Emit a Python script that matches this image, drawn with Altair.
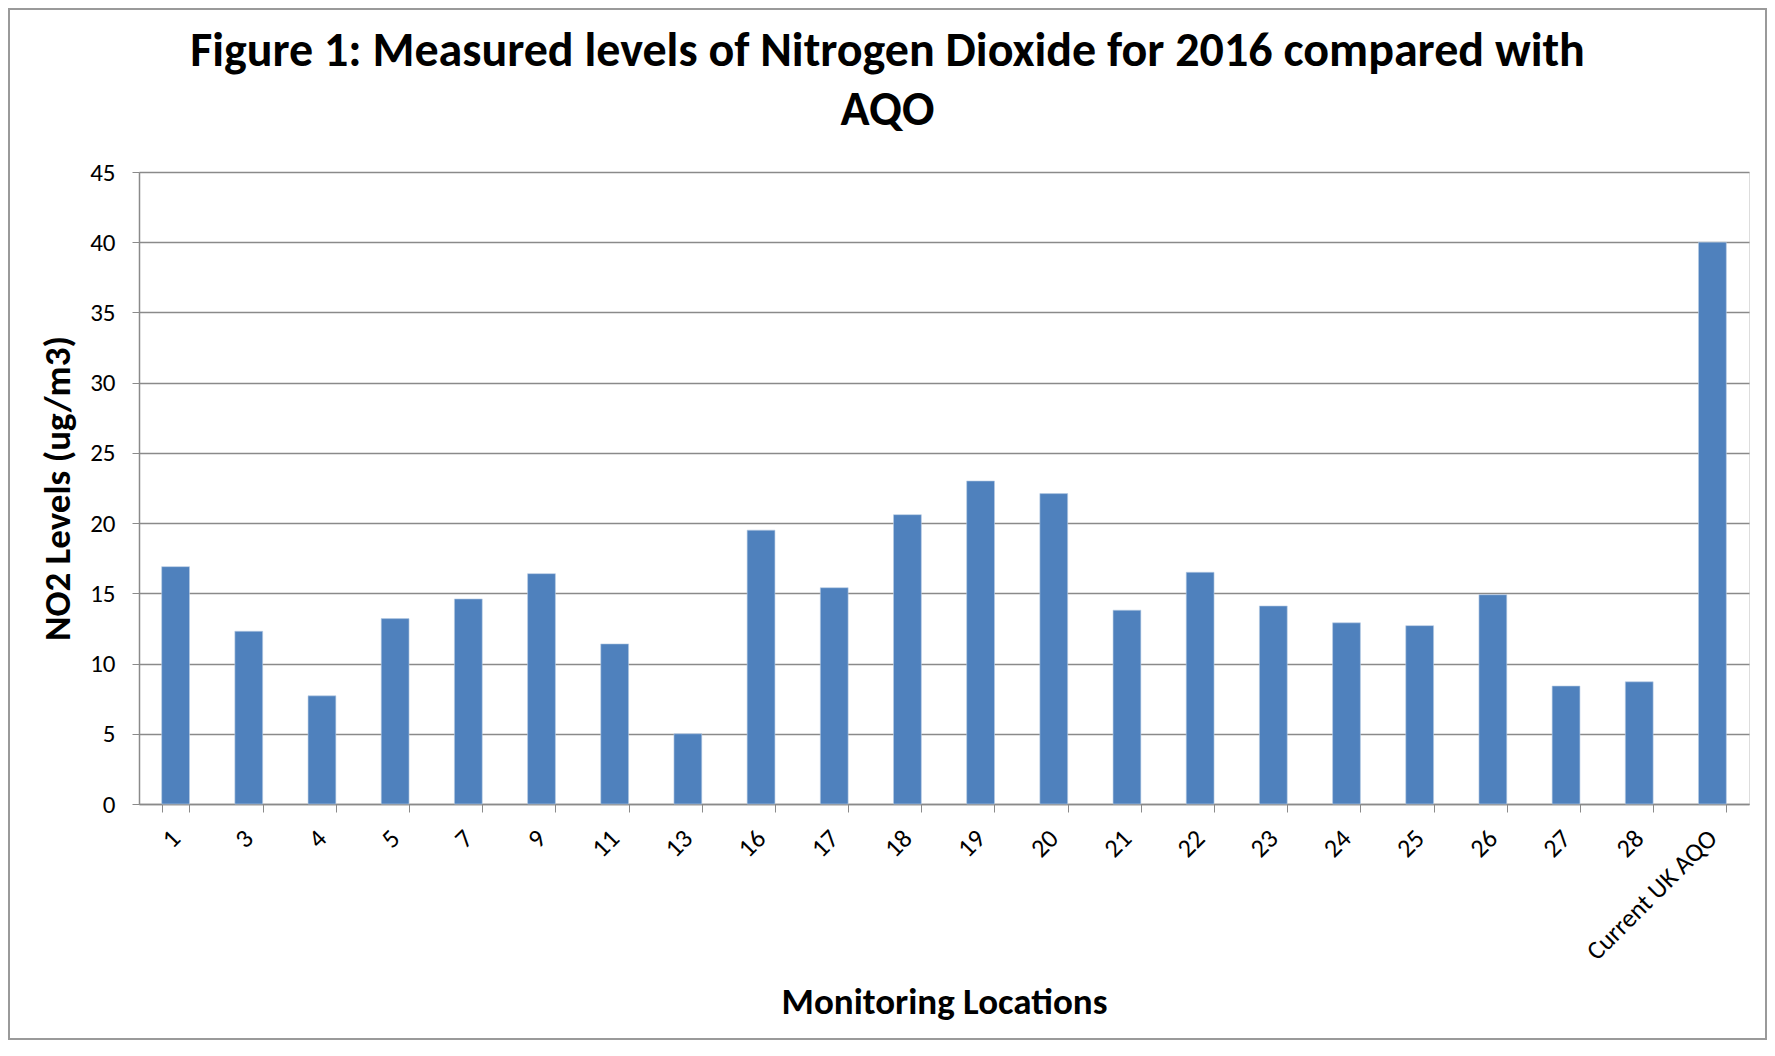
import altair as alt
import pandas as pd

locations = ["1", "3", "4", "5", "7", "9", "11", "13", "16", "17", "18", "19", "20",
             "21", "22", "23", "24", "25", "26", "27", "28", "Current UK AQO"]
no2_levels = [16.9, 12.3, 7.7, 13.2, 14.6, 16.4, 11.4, 5.0, 19.5, 15.4, 20.6, 23.0, 22.1,
              13.8, 16.5, 14.1, 12.9, 12.7, 14.9, 8.4, 8.7, 40.0]
y_ticks = [0, 5, 10, 15, 20, 25, 30, 35, 40, 45]

df = pd.DataFrame({"location": locations, "no2": no2_levels})

TITLE_FONT = "Carlito, 'Liberation Sans Narrow', 'Open Sans', sans-serif"
LABEL_FONT = "Carlito, 'Open Sans', sans-serif"
GRID = "#8a8a8a"

W, H = 1610, 632
PAD = {"left": 131, "top": 164, "right": 18, "bottom": 236}

bars = alt.Chart(df).mark_bar(color="#4F81BD", stroke="#b8cce4", strokeWidth=0.6).encode(
    x=alt.X("location:N", sort=locations,
            scale=alt.Scale(paddingInner=0.62, paddingOuter=0.31),
            axis=alt.Axis(title="Monitoring Locations", labelAngle=315, labelAlign="right",
                          labelBaseline="middle", labelFont=LABEL_FONT, labelFontSize=26,
                          labelColor="#000000", labelPadding=22, tickBand="extent",
                          tickExtra=True, ticks=True, tickSize=8, tickColor=GRID,
                          domainColor=GRID, domainWidth=1.5, grid=False,
                          titleFont=TITLE_FONT, titleFontSize=37, titleFontWeight="bold",
                          titleColor="#000000", titlePadding=20)),
    y=alt.Y("no2:Q", scale=alt.Scale(domain=[0, 45], nice=False),
            axis=alt.Axis(title="NO2 Levels  (ug/m3)", values=y_ticks, labelFont=LABEL_FONT,
                          labelFontSize=25, labelColor="#000000", labelPadding=17,
                          tickSize=7, tickColor=GRID, domainColor=GRID, domainWidth=1.5,
                          gridColor=GRID, gridWidth=1.3,
                          titleFont=TITLE_FONT, titleFontSize=37, titleFontWeight="bold",
                          titleColor="#000000", titlePadding=12)),
)

frame = alt.Chart(df).mark_rect(fill=None, stroke="#9a9a9a", strokeWidth=2).encode(
    x=alt.value(-PAD["left"] + 1), x2=alt.value(W + PAD["right"] - 1),
    y=alt.value(-PAD["top"] + 1), y2=alt.value(H + PAD["bottom"] - 1),
)

chart = alt.layer(bars, frame).properties(
    width=W, height=H,
    autosize=alt.AutoSizeParams(type="none"),
    padding=PAD,
    title=alt.TitleParams(
        text=["Figure 1: Measured levels of Nitrogen Dioxide for 2016 compared with", "AQO"],
        font=TITLE_FONT, fontSize=48, fontWeight="bold", color="#000000",
        anchor="middle", frame="bounds", offset=-127, lineHeight=59,
    ),
).configure_view(stroke=None).configure(background="white")

chart.save("out.html", embed_options={"renderer": "svg", "actions": False})
